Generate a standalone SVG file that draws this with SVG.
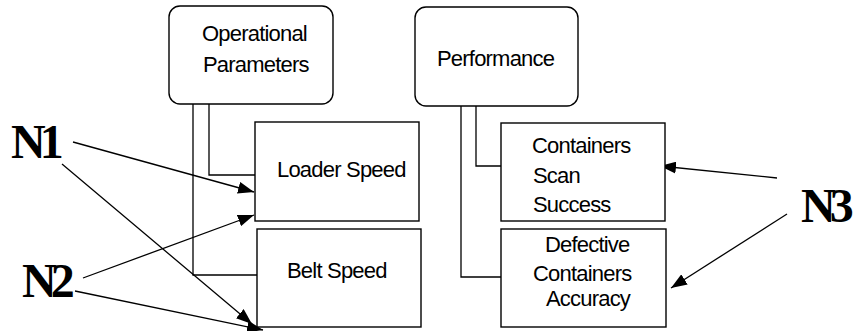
<svg xmlns="http://www.w3.org/2000/svg" width="860" height="331" viewBox="0 0 860 331">
  <style>
    .box { fill: #fff; stroke: #000; stroke-width: 1.4; }
    .lbl { font-family: "Liberation Sans", Arial, sans-serif; font-size: 22px; fill: #000; letter-spacing: -0.8px; }
    .tag { font-family: "Liberation Serif", "Times New Roman", serif; font-size: 48px; font-weight: bold; fill: #000; letter-spacing: -6px; }
    .wire { fill: none; stroke: #000; stroke-width: 1.3; }
    .ptr { fill: none; stroke: #000; stroke-width: 1.3; marker-end: url(#head); }
  </style>
  <defs>
    <marker id="head" markerUnits="userSpaceOnUse" markerWidth="16" markerHeight="12" refX="16" refY="6" orient="auto">
      <path d="M0,0 L16,6 L0,12 Z" fill="#000"/>
    </marker>
  </defs>

  <rect width="860" height="331" fill="#fff"/>

  <!-- tree connectors and pointer arrows -->
  <g id="connectors">
    <polyline class="wire" points="209,104 209,175 255,175"/>
    <polyline class="wire" points="193,104 193,275 257,275"/>
    <polyline class="wire" points="476,106 476,166 501,166"/>
    <polyline class="wire" points="461,106 461,277 501,277"/>
    <line class="ptr" x1="73" y1="142" x2="254" y2="192"/>
    <line class="ptr" x1="62" y1="164" x2="252" y2="324"/>
    <line class="ptr" x1="83" y1="278" x2="254" y2="215"/>
    <line class="ptr" x1="75" y1="291" x2="263" y2="330"/>
    <line class="ptr" x1="777" y1="178" x2="660" y2="166"/>
    <line class="ptr" x1="787" y1="214" x2="671" y2="288"/>
  </g>

  <g id="operational-parameters">
    <rect class="box" x="169" y="6" width="164" height="98" rx="11"/>
    <text class="lbl" x="202" y="41">Operational</text>
    <text class="lbl" x="203" y="72">Parameters</text>
  </g>

  <g id="performance">
    <rect class="box" x="415" y="7" width="163" height="99" rx="11"/>
    <text class="lbl" x="437" y="66">Performance</text>
  </g>

  <g id="loader-speed">
    <rect class="box" x="255" y="122" width="164" height="99"/>
    <text class="lbl" x="277" y="177">Loader Speed</text>
  </g>

  <g id="belt-speed">
    <rect class="box" x="257" y="229" width="164" height="98"/>
    <text class="lbl" x="287" y="278">Belt Speed</text>
  </g>

  <g id="containers-scan-success">
    <rect class="box" x="501" y="123" width="164" height="98"/>
    <text class="lbl" x="532" y="153">Containers</text>
    <text class="lbl" x="533" y="183">Scan</text>
    <text class="lbl" x="533" y="212">Success</text>
  </g>

  <g id="defective-containers-accuracy">
    <rect class="box" x="501" y="229" width="165" height="98"/>
    <text class="lbl" x="545" y="252">Defective</text>
    <text class="lbl" x="533" y="281">Containers</text>
    <text class="lbl" x="546" y="306">Accuracy</text>
  </g>

  <g id="n1"><text class="tag" x="11" y="158">N1</text></g>
  <g id="n2"><text class="tag" x="22" y="297">N2</text></g>
  <g id="n3"><text class="tag" x="801" y="222">N3</text></g>
</svg>
